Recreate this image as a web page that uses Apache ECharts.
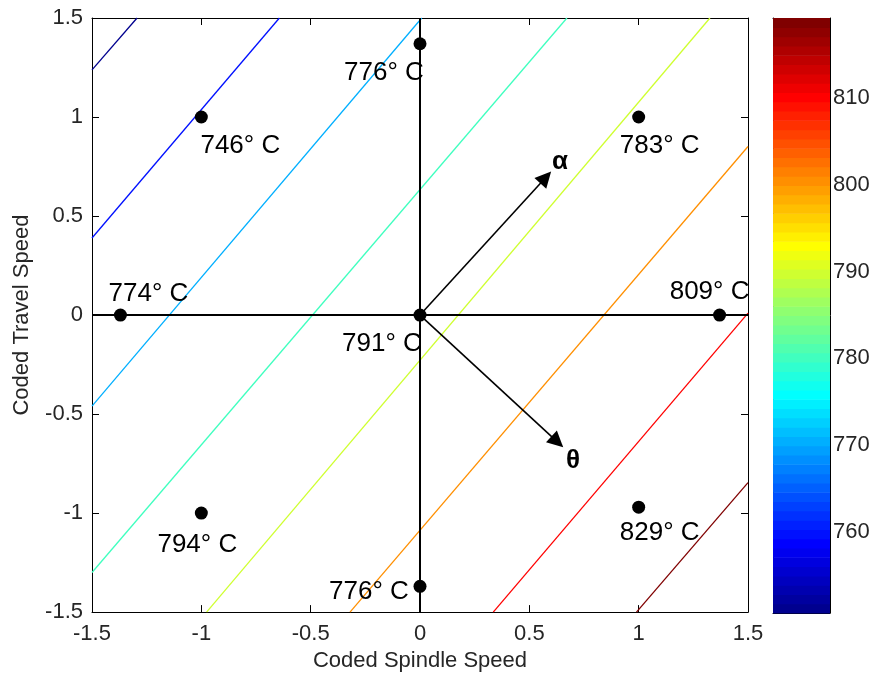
<!DOCTYPE html>
<html>
<head>
<meta charset="utf-8">
<script src="https://cdn.jsdelivr.net/npm/echarts@6/dist/echarts.min.js"></script>
<style>
  html, body { margin: 0; padding: 0; background: #fff; }
  #chart { width: 873px; height: 677px; }
</style>
</head>
<body>
<div id="chart"></div>
<script>
// Contour levels (°C) with the two end points of each straight contour line
const contourLevels = [750, 760, 770, 780, 790, 800, 810, 820];
const contourStart = [[-1.5, 1.238], [-1.5, 0.389], [-1.5, -0.46], [-1.5, -1.30],
                      [-0.976, -1.5], [-0.32, -1.5], [0.335, -1.5], [0.99, -1.5]];
const contourEnd = [[-1.294, 1.5], [-0.643, 1.5], [0.008, 1.5], [0.672, 1.5],
                    [1.326, 1.5], [1.5, 0.851], [1.5, 0.01], [1.5, -0.846]];

// Design points: coded spindle speed, coded travel speed, measured peak temperature
const spindle = [-1, 0, 1, -1.37, 1.37, 0, -1, 0, 1];
const travel = [1, 1.37, 1, 0, 0, 0, -1, -1.37, -0.97];
const temps = [746, 776, 783, 774, 809, 791, 794, 776, 829];

// Direction arrows drawn from the centre point
const arrowNames = ['α', 'θ'];
const arrowEnds = [[0.575, 0.695], [0.628, -0.64]];

// Axis ticks
const axisTicks = [-1.5, -1, -0.5, 0, 0.5, 1, 1.5];
const colorbarTicks = [760, 770, 780, 790, 800, 810];
const colorRange = [750.6, 819.25];

// Layout: label offsets (px) for each design point, arrow label anchors (axis units)
const labelOffsets = [[39, 29], [-36, 29], [21, 29], [28, -21], [-10, -23], [-38, 29], [-4, 32], [-51, 5], [21, 26]];
const arrowLabelAt = [[0.64, 0.772], [0.70, -0.737]];

const FONT = '"Liberation Sans", Arial, Helvetica, sans-serif';

// MATLAB-style jet colormap with m entries
function jet(m) {
  const n = Math.ceil(m / 4);
  const u = [];
  for (let i = 1; i <= n; i++) u.push(i / n);
  for (let i = 1; i < n; i++) u.push(1);
  for (let i = n; i >= 1; i--) u.push(i / n);
  const off = Math.ceil(n / 2) - (m % 4 === 1 ? 1 : 0);
  const J = Array.from({ length: m }, () => [0, 0, 0]);
  u.forEach((v, k) => {
    const g = off + k + 1, r = g + n, b = g - n;
    if (g >= 1 && g <= m) J[g - 1][1] = v;
    if (r >= 1 && r <= m) J[r - 1][0] = v;
    if (b >= 1 && b <= m) J[b - 1][2] = v;
  });
  return J.map(c => 'rgb(' + c.map(v => Math.round(v * 255)).join(',') + ')');
}
const bands = jet(64);
const bandStep = (colorRange[1] - colorRange[0]) / bands.length;
function levelColor(v) {
  let i = Math.floor((v - colorRange[0]) / (colorRange[1] - colorRange[0]) * bands.length);
  i = Math.max(0, Math.min(bands.length - 1, i));
  return bands[i];
}

const chart = echarts.init(document.getElementById('chart'), null, { renderer: 'canvas' });

const frameLine = { show: true, onZero: false, lineStyle: { color: '#000', width: 1 } };
const tickIn = { show: true, inside: true, length: 7, lineStyle: { color: '#000', width: 1 } };
const tickFont = { color: '#262626', fontSize: 22, fontFamily: FONT };

const series = [];

contourLevels.forEach((lv, i) => {
  series.push({
    type: 'line', xAxisIndex: 0, yAxisIndex: 0, silent: true, z: 2,
    showSymbol: false, symbol: 'none', animation: false,
    data: [contourStart[i], contourEnd[i]],
    lineStyle: { color: levelColor(lv), width: 1.3 }
  });
});

// coordinate cross through the centre point
series.push({
  type: 'line', xAxisIndex: 0, yAxisIndex: 0, silent: true, z: 3, symbol: 'none', animation: false,
  data: [[axisTicks[0], 0], [axisTicks[axisTicks.length - 1], 0]],
  lineStyle: { color: '#000', width: 2 }
});
series.push({
  type: 'line', xAxisIndex: 0, yAxisIndex: 0, silent: true, z: 3, symbol: 'none', animation: false,
  data: [[0, axisTicks[0]], [0, axisTicks[axisTicks.length - 1]]],
  lineStyle: { color: '#000', width: 2 }
});

// arrows
series.push({
  type: 'lines', coordinateSystem: 'cartesian2d', xAxisIndex: 0, yAxisIndex: 0, z: 4, silent: true,
  symbol: ['none', 'triangle'], symbolSize: 16, animation: false,
  lineStyle: { color: '#000', width: 1.6, opacity: 1 },
  data: arrowEnds.map(e => ({ coords: [[0, 0], e] }))
});
series.push({
  type: 'scatter', xAxisIndex: 0, yAxisIndex: 0, z: 5, symbolSize: 0, silent: true, animation: false,
  itemStyle: { opacity: 1 },
  data: arrowNames.map((n, i) => ({ name: n, value: arrowLabelAt[i] })),
  label: {
    show: true, position: 'inside', formatter: '{b}', color: '#000',
    fontSize: 26, fontWeight: 'bold', fontFamily: FONT
  }
});

// design points with temperature labels
series.push({
  type: 'scatter', xAxisIndex: 0, yAxisIndex: 0, z: 6, symbol: 'circle', symbolSize: 13,
  itemStyle: { color: '#000', opacity: 1 }, animation: false,
  data: spindle.map((x, i) => ({
    value: [x, travel[i]],
    label: {
      show: true, position: 'inside', offset: labelOffsets[i],
      formatter: temps[i] + '° C', color: '#000', fontSize: 26, fontFamily: FONT
    }
  }))
});

// colour bar bands
series.push({
  type: 'custom', xAxisIndex: 2, yAxisIndex: 2, silent: true, animation: false,
  data: bands.map((c, i) => [i, i]),
  renderItem(params, api) {
    const i = api.value(0);
    const lo = colorRange[0] + i * bandStep, hi = lo + bandStep;
    const p0 = api.coord([0, hi]), p1 = api.coord([1, lo]);
    return {
      type: 'rect',
      shape: { x: p0[0], y: p0[1], width: p1[0] - p0[0], height: p1[1] - p0[1] + 0.6 },
      style: { fill: bands[i] }
    };
  }
});

chart.setOption({
  animation: false,
  backgroundColor: '#fff',
  grid: [
    { left: 92, top: 18, width: 656, height: 595 },
    { left: 773, top: 18, width: 57, height: 595 }
  ],
  xAxis: [
    {
      gridIndex: 0, type: 'value', min: -1.5, max: 1.5, interval: 0.5, position: 'bottom',
      axisLine: frameLine, axisTick: tickIn, splitLine: { show: false },
      axisLabel: Object.assign({ margin: 11 }, tickFont),
      name: 'Coded Spindle Speed', nameLocation: 'middle', nameGap: 37,
      nameTextStyle: { color: '#262626', fontSize: 22, fontFamily: FONT }
    },
    {
      gridIndex: 0, type: 'value', min: -1.5, max: 1.5, interval: 0.5, position: 'top',
      axisLine: frameLine, axisTick: tickIn, splitLine: { show: false }, axisLabel: { show: false }
    },
    {
      gridIndex: 1, type: 'value', min: 0, max: 1, position: 'bottom',
      axisLine: frameLine, axisTick: { show: false }, splitLine: { show: false }, axisLabel: { show: false }
    },
    {
      gridIndex: 1, type: 'value', min: 0, max: 1, position: 'top',
      axisLine: frameLine, axisTick: { show: false }, splitLine: { show: false }, axisLabel: { show: false }
    }
  ],
  yAxis: [
    {
      gridIndex: 0, type: 'value', min: -1.5, max: 1.5, interval: 0.5, position: 'left',
      axisLine: frameLine, axisTick: tickIn, splitLine: { show: false },
      axisLabel: Object.assign({ margin: 9 }, tickFont),
      name: 'Coded Travel Speed', nameLocation: 'middle', nameRotate: 90, nameGap: 59,
      nameTextStyle: { color: '#262626', fontSize: 22, fontFamily: FONT }
    },
    {
      gridIndex: 0, type: 'value', min: -1.5, max: 1.5, interval: 0.5, position: 'right',
      axisLine: frameLine, axisTick: tickIn, splitLine: { show: false }, axisLabel: { show: false }
    },
    {
      gridIndex: 1, type: 'value', min: colorRange[0], max: colorRange[1], position: 'right',
      axisLine: frameLine, splitLine: { show: false },
      axisTick: Object.assign({ customValues: colorbarTicks }, tickIn),
      axisLabel: Object.assign({ margin: 3, customValues: colorbarTicks }, tickFont)
    },
    {
      gridIndex: 1, type: 'value', min: colorRange[0], max: colorRange[1], position: 'left',
      axisLine: frameLine, splitLine: { show: false },
      axisTick: Object.assign({ customValues: colorbarTicks }, tickIn),
      axisLabel: { show: false }
    }
  ],
  series: series
});
</script>
</body>
</html>
